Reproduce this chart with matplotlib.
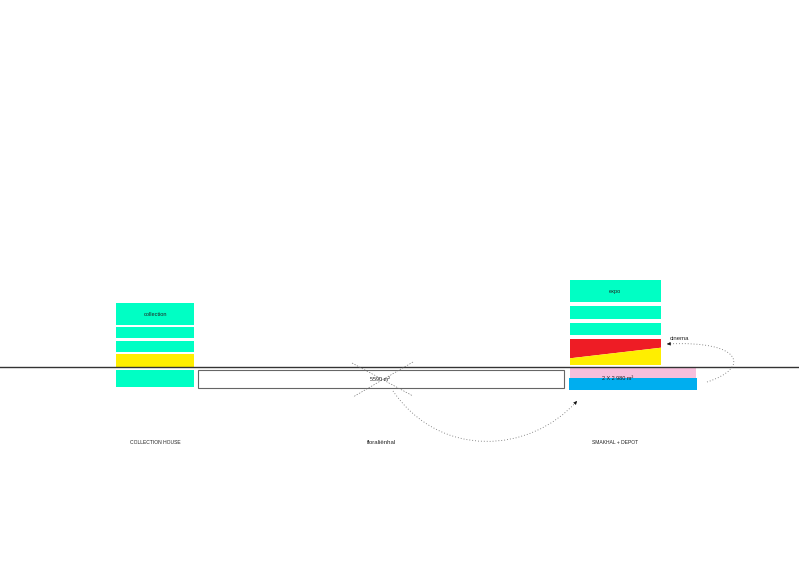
import matplotlib
matplotlib.use("Agg")
import matplotlib.pyplot as plt
from matplotlib.patches import Rectangle, Polygon, PathPatch
from matplotlib.path import Path

plt.rcParams['font.family'] = ['Liberation Sans', 'DejaVu Sans']

CYAN = '#00ffc4'
YELLOW = '#ffee00'
RED = '#ee1c25'
PINK = '#f7bfdc'
BLUE = '#00aeef'

# blocks: left, right, top, bottom, colour
collection_blocks = [
    (116, 194, 302.5, 324.5, CYAN),
    (116, 194, 327, 338, CYAN),
    (116, 194, 340.5, 351.5, CYAN),
    (116, 194, 354, 366.5, YELLOW),
    (116, 194, 369.5, 386.5, CYAN),
]
expo_blocks = [
    (570, 661, 280, 302, CYAN),
    (570, 661, 306, 319, CYAN),
    (570, 661, 323, 335, CYAN),
    (570, 696, 367.5, 378, PINK),
    (569, 696.5, 378, 390, BLUE),
]
red_wedge = [(570, 339), (661, 339), (661, 347.7), (570, 358.3)]
yellow_wedge = [(570, 358.3), (661, 347.7), (661, 365), (570, 365)]
hall_box = (198, 564.2, 370, 388)
ground_y = 366.6
cross_lines = [((352, 363), (413, 396)), ((413, 362), (353, 397))]
hall_arc = [(393, 391), (440, 459), (530, 454), (577, 401)]
cinema_arc = [(707, 382), (751, 368), (743, 340), (667, 344)]
labels = [
    (155, 314, 'collection', 4.1), (615, 291.5, 'expo', 4.1), (679, 338.5, 'cinema', 4.3),
    (380, 379.5, '5590 m²', 4.0), (618, 379, '2 X 2 980 m²', 4.0),
    (155, 443, 'COLLECTION HOUSE', 3.65), (381.5, 443, 'floraliënhal', 4.3),
    (615.5, 443, 'SMAKHAL + DEPOT', 3.65),
]

fig = plt.figure(figsize=(7.99, 5.65), dpi=100, facecolor='white')
ax = fig.add_axes([0, 0, 1, 1])
ax.set_xlim(0, 799)
ax.set_ylim(565, 0)
ax.axis('off')

for x0, x1, y0, y1, c in collection_blocks + expo_blocks:
    ax.add_patch(Rectangle((x0, y0), x1 - x0, y1 - y0, fc=c, ec='none', zorder=1))
ax.add_patch(Polygon(red_wedge, fc=RED, ec='none', zorder=1))
ax.add_patch(Polygon(yellow_wedge, fc=YELLOW, ec='none', zorder=1))

x0, x1, y0, y1 = hall_box
ax.add_patch(Rectangle((x0, y0), x1 - x0, y1 - y0, fc='white', ec='#666666', lw=0.8, zorder=2))
ax.plot([0, 799], [ground_y, ground_y], color='#333333', lw=1.0, zorder=3)

for a, b in cross_lines:
    ax.plot([a[0], b[0]], [a[1], b[1]], color='#777777', lw=0.5, ls=(0, (2, 2)), zorder=4)

codes = [Path.MOVETO, Path.CURVE4, Path.CURVE4, Path.CURVE4]
for pts in (hall_arc, cinema_arc):
    ax.add_patch(PathPatch(Path(pts, codes), fc='none', ec='#666666', lw=0.6,
                           ls=(0, (1, 2.5)), zorder=4))
    dx, dy = pts[3][0] - pts[2][0], pts[3][1] - pts[2][1]
    n = (dx * dx + dy * dy) ** 0.5
    start = (pts[3][0] - dx / n * 3, pts[3][1] - dy / n * 3)
    ax.annotate('', xy=pts[3], xytext=start,
                arrowprops=dict(arrowstyle='-|>', color='#111111', lw=0.4,
                                mutation_scale=5, shrinkA=0, shrinkB=0), zorder=5)

for x, y, s, size in labels:
    ax.text(x, y, s, fontsize=size, color='#222222', ha='center', va='center', zorder=6)

fig.savefig('out.png', dpi=100)
